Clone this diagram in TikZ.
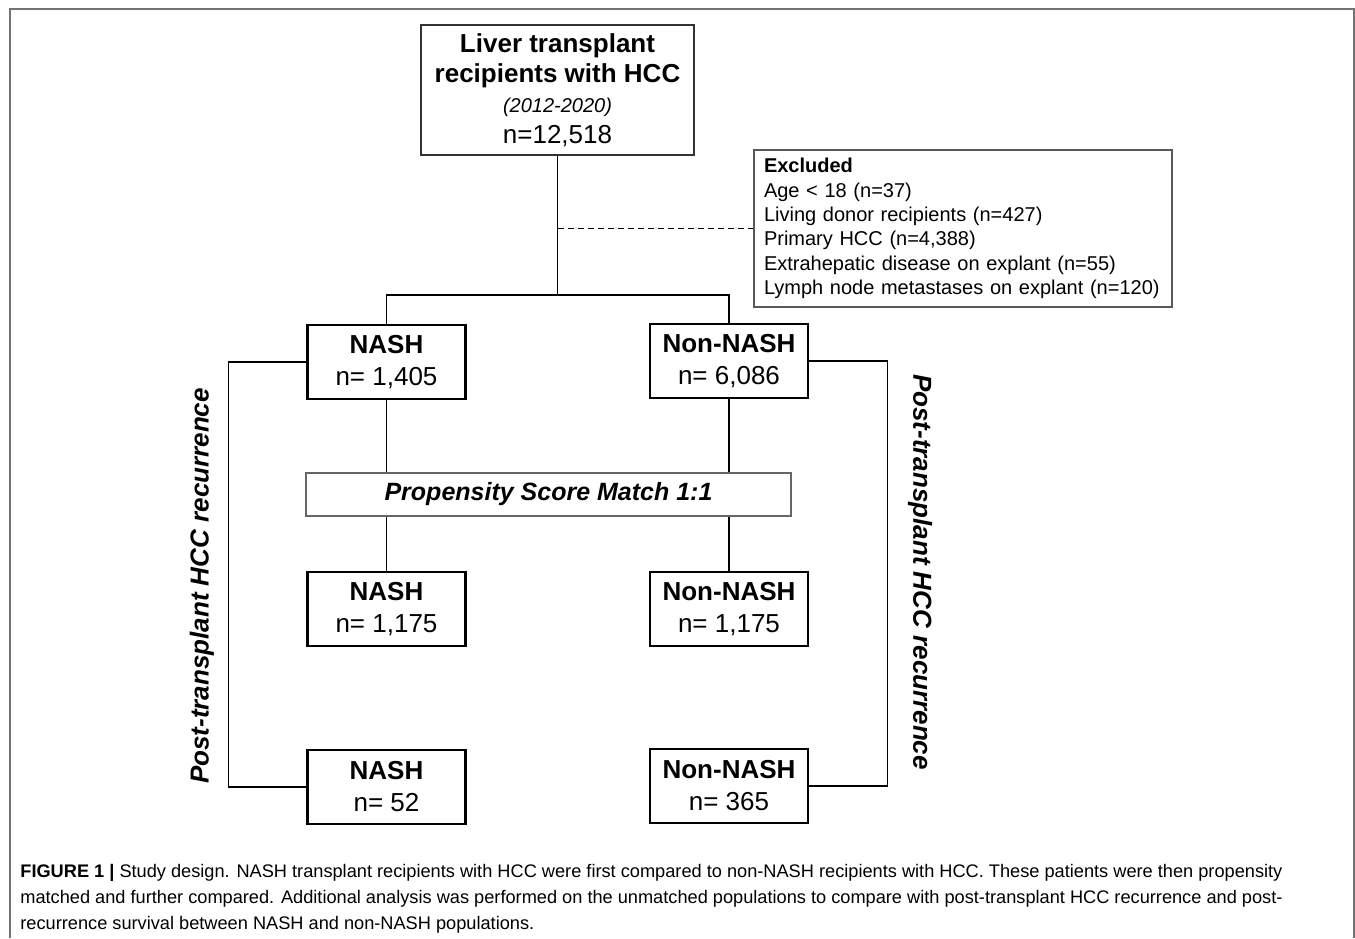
\documentclass[tikz,border=0pt]{standalone}
\usepackage{fontspec}
\setmainfont{Liberation Sans}

\begin{document}
\begin{tikzpicture}[x=0.5pt, y=-0.5pt,
    group/.style={draw=black, line width=1.4pt, minimum width=79pt, minimum height=37pt,
      inner sep=0pt, align=center, font=\fontsize{13}{16}\selectfont},
    link/.style={line width=0.75pt},
    sideline/.style={line width=0.6pt},
    sidelabel/.style={font=\fontsize{13}{15}\selectfont\bfseries\itshape}]
  \useasboundingbox (0,0) rectangle (1355,938);

  % Frame
  \draw[line width=1pt, draw=black!55] (9.5,938) -- (9.5,8.5) -- (1353.5,8.5) -- (1353.5,938);

  % Top box and exclusions
  \node[draw=black!80, line width=0.75pt, minimum width=136.5pt, minimum height=65pt,
    inner sep=0pt, align=center, font=\fontsize{13}{15.2}\selectfont] (top) at (557.5,90)
    {\textbf{Liver transplant}\\\textbf{recipients with HCC}\\{\fontsize{10}{12}\selectfont\itshape (2012-2020)}\\n=12,518};
  \node[draw=black!65, line width=0.6pt, text width=199pt, inner xsep=5pt, inner ysep=0pt,
    minimum height=78.5pt, align=left, font=\fontsize{10}{12.2}\selectfont] (excl) at (963,228.5)
    {\textbf{Excluded}\\Age < 18 (n=37)\\Living donor recipients (n=427)\\Primary HCC (n=4,388)\\
     Extrahepatic disease on explant (n=55)\\Lymph node metastases on explant (n=120)};

  % Groups
  \node[group] (nash1) at (386.5,362) {\textbf{NASH}\\n= 1,405};
  \node[group] (non1) at (729,361) {\textbf{Non-NASH}\\n= 6,086};
  \node[draw=black!60, line width=0.6pt, minimum width=242.5pt, minimum height=21.5pt, inner sep=0pt,
    font=\fontsize{12.5}{15}\selectfont\bfseries\itshape] (psm) at (548.5,494.5) {Propensity Score Match 1:1};
  \node[group] (nash2) at (386.5,609) {\textbf{NASH}\\n= 1,175};
  \node[group] (non2) at (729,609) {\textbf{Non-NASH}\\n= 1,175};
  \node[group] (nash3) at (386.5,787) {\textbf{NASH}\\n= 52};
  \node[group] (non3) at (729,786) {\textbf{Non-NASH}\\n= 365};

  % Side labels
  \node[sidelabel, rotate=90] (leftlab) at (202,586) {Post-transplant HCC recurrence};
  \node[sidelabel, rotate=-90] (rightlab) at (920,572) {Post-transplant HCC recurrence};

  % Connectors
  \coordinate (split) at (557.5,295);
  \coordinate (gap) at (557.5,228.5);
  \draw[link] (top.south) -- (split);
  \draw[link] (nash1.north) |- (split) -| (non1.north);
  \draw[line width=0.6pt, dash pattern=on 3pt off 2pt] (gap) -- (excl.west);
  \draw[link] (nash1.south) -- (nash1.south |- psm.north);
  \draw[link] (non1.south) -- (non1.south |- psm.north);
  \draw[link] (nash2.north |- psm.south) -- (nash2.north);
  \draw[link] (non2.north |- psm.south) -- (non2.north);
  \draw[sideline] (nash1.west) -- ++(-78,0) |- (nash3.west);
  \draw[sideline] (non1.east) -- ++(78,0) |- (non3.east);

  % Caption
  \node[anchor=north west, inner sep=0pt, align=left, font=\fontsize{9.1}{13}\selectfont] (caption) at (20,864)
    {\textbf{FIGURE 1 |} Study design. NASH transplant recipients with HCC were first compared to non-NASH recipients with HCC. These patients were then propensity\\
     matched and further compared. Additional analysis was performed on the unmatched populations to compare with post-transplant HCC recurrence and post-\\
     recurrence survival between NASH and non-NASH populations.};
\end{tikzpicture}
\end{document}
